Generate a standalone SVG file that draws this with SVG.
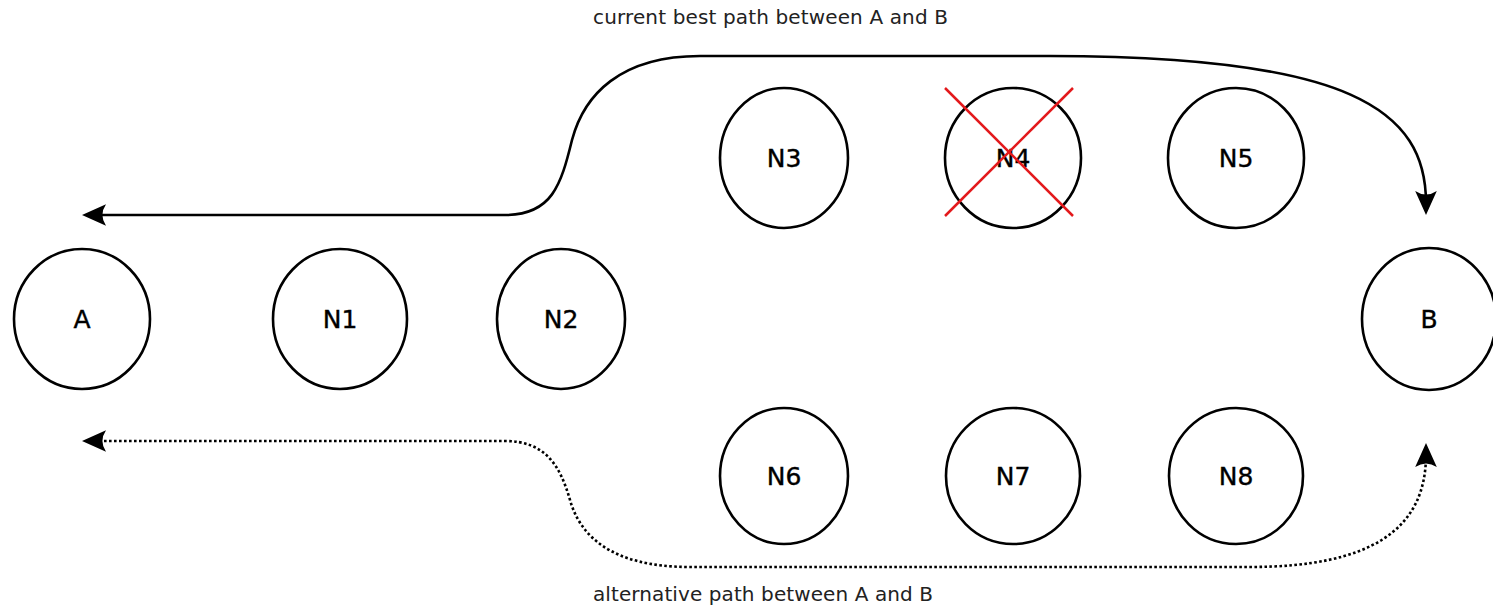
<svg xmlns="http://www.w3.org/2000/svg" width="1493" height="607" viewBox="0 0 1493 607">
  <style>
    .node { fill: #ffffff; stroke: #000000; stroke-width: 2.6; }
    .label { font-family: "DejaVu Sans", "Liberation Sans", sans-serif; font-size: 25px; fill: #000000; stroke: #000000; stroke-width: 0.4; text-anchor: middle; }
    .caption { font-family: "DejaVu Sans", "Liberation Sans", sans-serif; font-size: 20px; fill: #222222; }
    .path { fill: none; stroke: #000000; stroke-width: 2.6; }
    .dotted { stroke-dasharray: 2.6 2.4; }
    .cross { stroke: #e3191c; stroke-width: 2.5; }
  </style>
  <defs>
    <marker id="head" markerUnits="userSpaceOnUse" markerWidth="24" markerHeight="22" viewBox="0 0 20 18" refX="10" refY="9" orient="auto-start-reverse">
      <path d="M20,9 L0,0 Q6,9 0,18 Z" fill="#000000"/>
    </marker>
  </defs>

  <rect width="1493" height="607" fill="#ffffff"/>

  <!-- nodes -->
  <g id="node-A"><ellipse class="node" cx="82" cy="319" rx="68" ry="70"/><text class="label" x="82" y="328">A</text></g>
  <g id="node-N1"><ellipse class="node" cx="340" cy="319" rx="67" ry="70"/><text class="label" x="340" y="328">N1</text></g>
  <g id="node-N2"><ellipse class="node" cx="561" cy="319" rx="64" ry="70"/><text class="label" x="561" y="328">N2</text></g>
  <g id="node-N3"><ellipse class="node" cx="784" cy="158" rx="64" ry="70"/><text class="label" x="784" y="167">N3</text></g>
  <g id="node-N4"><ellipse class="node" cx="1013" cy="158" rx="68" ry="70"/><text class="label" x="1013" y="167">N4</text></g>
  <g id="node-N5"><ellipse class="node" cx="1236" cy="158" rx="68" ry="70"/><text class="label" x="1236" y="167">N5</text></g>
  <g id="node-N6"><ellipse class="node" cx="784" cy="476" rx="64" ry="68"/><text class="label" x="784" y="485">N6</text></g>
  <g id="node-N7"><ellipse class="node" cx="1013" cy="476" rx="67" ry="68"/><text class="label" x="1013" y="485">N7</text></g>
  <g id="node-N8"><ellipse class="node" cx="1236" cy="476" rx="67" ry="68"/><text class="label" x="1236" y="485">N8</text></g>
  <g id="node-B"><ellipse class="node" cx="1429" cy="319" rx="67" ry="71"/><text class="label" x="1429" y="328">B</text></g>

  <!-- failed node marker -->
  <g id="n4-failed">
    <line class="cross" x1="945" y1="88" x2="1073" y2="216"/>
    <line class="cross" x1="1073" y1="88" x2="945" y2="216"/>
  </g>

  <!-- connectors -->
  <g id="connectors">
    <path id="best-path" class="path" marker-start="url(#head)" marker-end="url(#head)"
          d="M94,215 L505,215 C552,215 561,185 572,140 C584,95 620,56 700,56 L1050,56 C1350,56 1426,110 1426,203"/>
    <path id="alt-path" class="path dotted" marker-start="url(#head)" marker-end="url(#head)"
          d="M94,441 L505,441 C545,441 560,465 570,500 C580,535 610,567 690,567 L1250,567 C1370,567 1426,530 1426,455"/>
  </g>

  <!-- captions -->
  <text class="caption" x="593" y="24" textLength="355" lengthAdjust="spacing">current best path between A and B</text>
  <text class="caption" x="593" y="601" textLength="340" lengthAdjust="spacing">alternative path between A and B</text>
</svg>
